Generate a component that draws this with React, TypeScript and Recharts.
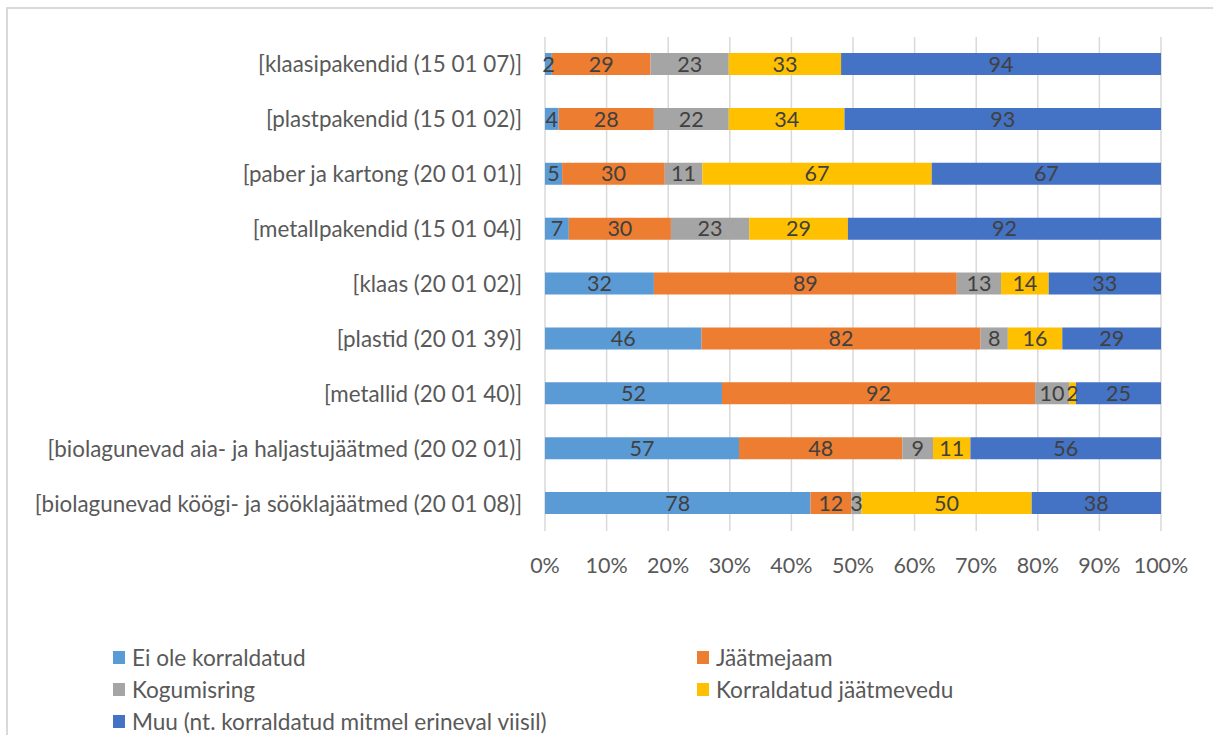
import { BarChart, Bar, XAxis, YAxis, CartesianGrid, LabelList } from 'recharts'

const categories = [
  '[klaasipakendid (15 01 07)]',
  '[plastpakendid (15 01 02)]',
  '[paber ja kartong (20 01 01)]',
  '[metallpakendid (15 01 04)]',
  '[klaas (20 01 02)]',
  '[plastid (20 01 39)]',
  '[metallid (20 01 40)]',
  '[biolagunevad aia- ja haljastujäätmed (20 02 01)]',
  '[biolagunevad köögi- ja sööklajäätmed (20 01 08)]',
]

const eiOle = [2, 4, 5, 7, 32, 46, 52, 57, 78]
const jaatmejaam = [29, 28, 30, 30, 89, 82, 92, 48, 12]
const kogumisring = [23, 22, 11, 23, 13, 8, 10, 9, 3]
const jaatmevedu = [33, 34, 67, 29, 14, 16, 2, 11, 50]
const muu = [94, 93, 67, 92, 33, 29, 25, 56, 38]

const xTicks = [0, 0.1, 0.2, 0.3, 0.4, 0.5, 0.6, 0.7, 0.8, 0.9, 1]

const series = [
  { key: 'ei', name: 'Ei ole korraldatud', color: '#5B9BD5' },
  { key: 'jj', name: 'Jäätmejaam', color: '#ED7D31' },
  { key: 'kr', name: 'Kogumisring', color: '#A5A5A5' },
  { key: 'jv', name: 'Korraldatud jäätmevedu', color: '#FFC000' },
  { key: 'muu', name: 'Muu (nt. korraldatud mitmel erineval viisil)', color: '#4472C4' },
]

const data = categories.map((name, i) => ({
  name,
  ei: eiOle[i],
  jj: jaatmejaam[i],
  kr: kogumisring[i],
  jv: jaatmevedu[i],
  muu: muu[i],
}))

const FONT = 'Lato, Carlito, Calibri, sans-serif'
const FS = 21.5
const FS_CAT = 22.4

// legend in two columns like the Excel original, drawn below the plot
const LegendBox = () => (
  <div
    style={{
      position: 'absolute',
      left: 113,
      top: 645,
      display: 'grid',
      gridTemplateColumns: '584px 440px',
      rowGap: 8,
      fontFamily: FONT,
      fontSize: 22.6,
      color: '#595959',
    }}
  >
    {series.map(s => (
      <div key={s.key} style={{ display: 'flex', alignItems: 'center', height: 24, whiteSpace: 'nowrap' }}>
        <span style={{ display: 'inline-block', width: 12, height: 13, background: s.color, marginRight: 7 }} />
        <span>{s.name}</span>
      </div>
    ))}
  </div>
)

export default function App() {
  return (
    <div style={{ position: 'absolute', left: 0, top: 0, width: 1213, height: 735, overflow: 'hidden', background: '#fff' }}>
      <div
        style={{
          position: 'absolute',
          left: 6,
          top: 7,
          width: 1230,
          height: 760,
          borderLeft: '2px solid #d9d9d9',
          borderTop: '2px solid #d9d9d9',
        }}
      />
      <div style={{ position: 'absolute', left: 0, top: 0 }}>
        <BarChart
          width={1213}
          height={735}
          data={data}
          layout="vertical"
          stackOffset="expand"
          barSize={22}
          margin={{ top: 37, right: 52, bottom: 154, left: 0 }}
        >
          <CartesianGrid horizontal={false} stroke="#d9d9d9" strokeWidth={1.5} />
          <XAxis
            type="number"
            domain={[0, 1]}
            ticks={xTicks}
            tickFormatter={(v: number) => `${Math.round(v * 100)}%`}
            axisLine={false}
            tickLine={false}
            tickMargin={21}
            height={50}
            interval={0}
            tick={{ fill: '#595959', fontSize: FS, fontFamily: FONT }}
          />
          <YAxis
            type="category"
            dataKey="name"
            width={545}
            axisLine={false}
            tickLine={false}
            tickMargin={17}
            interval={0}
            tick={{ fill: '#595959', fontSize: FS_CAT, fontFamily: FONT }}
          />
          {series.map(s => (
            <Bar key={s.key} dataKey={s.key} name={s.name} stackId="a" fill={s.color} isAnimationActive={false}>
              <LabelList
                dataKey={s.key}
                position="center"
                fill="#404040"
                fontSize={FS}
                fontFamily={FONT}
              />
            </Bar>
          ))}
        </BarChart>
      </div>
      <LegendBox />
    </div>
  )
}
